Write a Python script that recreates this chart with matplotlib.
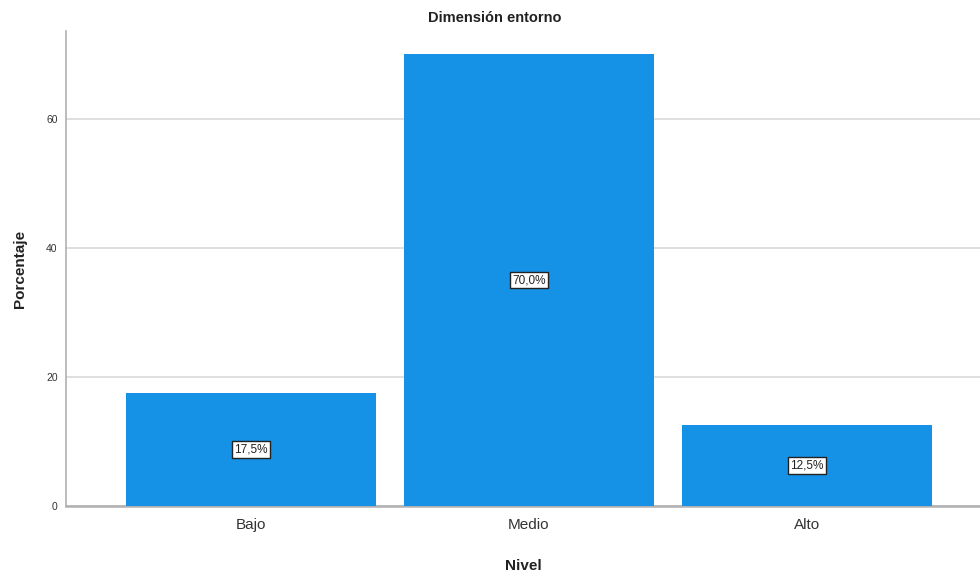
import matplotlib.pyplot as plt

categories = ["Bajo", "Medio", "Alto"]
percentages = [17.5, 70.0, 12.5]
y_ticks = [0, 20, 40, 60]

BAR_COLOR = "#1591e6"

plt.rcParams["font.family"] = ["Liberation Sans", "DejaVu Sans"]

fig = plt.figure(figsize=(9.8, 5.73), dpi=100)
ax = fig.add_axes([0.0673, 0.117, 0.9327, 0.829])

positions = list(range(len(categories)))
ax.bar(positions, percentages, width=0.9, color=BAR_COLOR, zorder=3)

for x, value in zip(positions, percentages):
    ax.text(x, value / 2, f"{value:.1f}%".replace(".", ","), ha="center", va="center",
            fontsize=8.5, color="#222222", zorder=4,
            bbox=dict(boxstyle="square,pad=0.2", facecolor="white", edgecolor="#222222", linewidth=1.0))

ax.set_xlim(-0.665, 2.622)
ax.set_ylim(0, 73.6)
ax.set_yticks(y_ticks)
ax.set_xticks(positions)
ax.set_xticklabels(categories, fontsize=11, color="#333333")
ax.tick_params(axis="y", labelsize=7.5, colors="#333333", length=0, pad=6)
ax.tick_params(axis="x", length=0, pad=9)

ax.yaxis.grid(True, color="#d9d9d9", linewidth=1.2, zorder=0)
ax.set_axisbelow(True)

for side in ["top", "right"]:
    ax.spines[side].set_visible(False)
ax.spines["left"].set_color("#b0b0b0")
ax.spines["left"].set_linewidth(1.2)
ax.spines["bottom"].set_color("#b0b0b0")
ax.spines["bottom"].set_linewidth(1.8)

ax.set_ylabel("Porcentaje", fontsize=11, fontweight="bold", color="#222222", labelpad=14)
ax.set_xlabel("Nivel", fontsize=11, fontweight="bold", color="#222222", labelpad=19)
fig.text(0.505, 0.968, "Dimensión entorno", ha="center", va="center",
         fontsize=10.5, fontweight="bold", color="#222222")

fig.savefig("out.png", dpi=100)
